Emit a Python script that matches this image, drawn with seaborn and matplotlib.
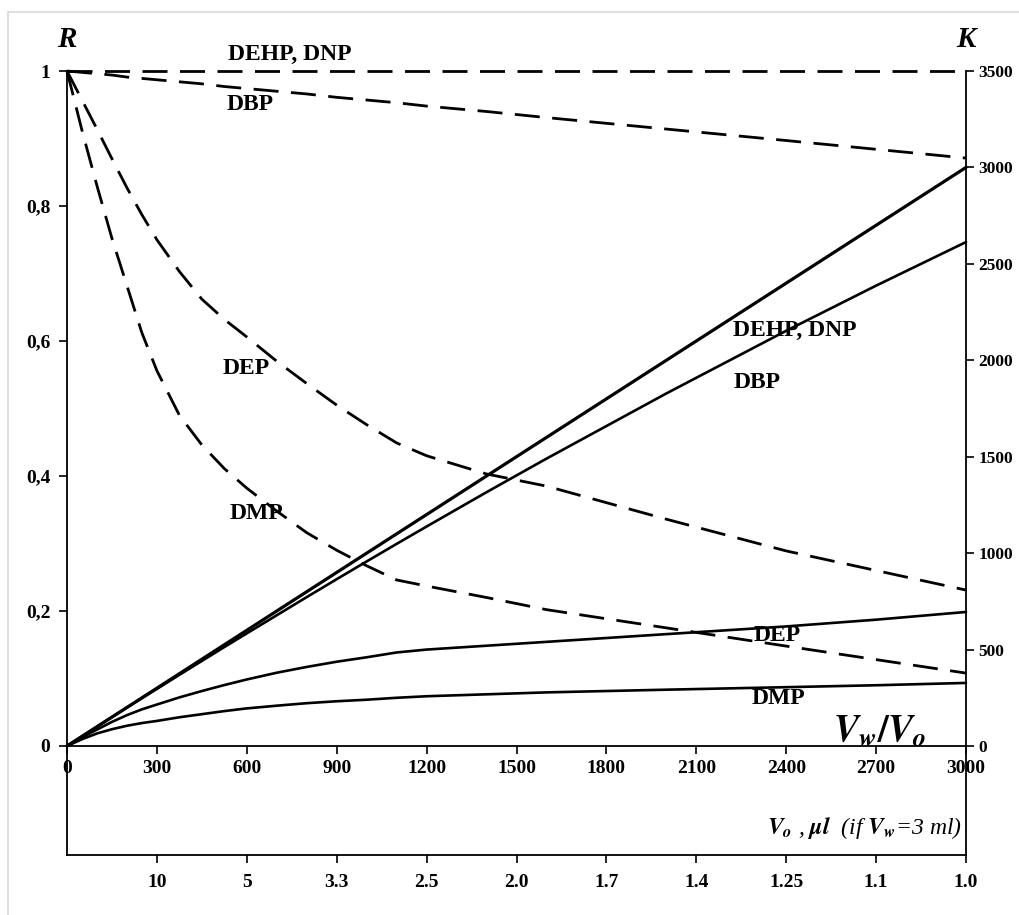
import numpy as np
import pandas as pd
import seaborn as sns
import matplotlib.pyplot as plt
from matplotlib.patches import Rectangle

# Vw/Vo grid
ratio = [0, 50, 100, 150, 200, 250, 300, 375, 450, 525, 600, 700, 800, 900, 1000, 1100, 1200, 1400, 1600, 2000, 2400, 2700, 3000]

# R (left axis, dashed)
r_dehp = [1.0] * len(ratio)
r_dbp = [1.0, 0.998, 0.996, 0.994, 0.991, 0.989, 0.987, 0.984, 0.981, 0.977, 0.974, 0.970, 0.966, 0.961, 0.957, 0.953, 0.948, 0.940, 0.931, 0.914, 0.897, 0.884, 0.871]
r_dep = [1.0, 0.957, 0.914, 0.870, 0.827, 0.787, 0.750, 0.703, 0.662, 0.632, 0.606, 0.570, 0.537, 0.505, 0.476, 0.449, 0.430, 0.403, 0.385, 0.336, 0.289, 0.260, 0.231]
r_dmp = [1.0, 0.912, 0.830, 0.752, 0.682, 0.612, 0.556, 0.490, 0.446, 0.411, 0.382, 0.348, 0.316, 0.290, 0.267, 0.246, 0.237, 0.220, 0.202, 0.175, 0.148, 0.128, 0.108]

# K (right axis, solid)
k_dehp = [0, 50, 100, 150, 200, 250, 300, 375, 450, 525, 600, 700, 800, 900, 1000, 1100, 1200, 1400, 1600, 2000, 2400, 2700, 3000]
k_dbp = [0, 50, 100, 150, 199, 248, 296, 369, 441, 513, 584, 678, 772, 865, 957, 1048, 1138, 1316, 1490, 1828, 2153, 2387, 2613]
k_dep = [0, 45, 85, 125, 160, 190, 215, 252, 285, 316, 345, 380, 410, 437, 460, 485, 500, 520, 540, 580, 620, 655, 695]
k_dmp = [0, 35, 65, 87, 105, 119, 130, 149, 165, 181, 195, 209, 222, 232, 240, 250, 258, 268, 278, 292, 305, 315, 327]

x_ticks = [0, 300, 600, 900, 1200, 1500, 1800, 2100, 2400, 2700, 3000]
vo_ticks = [300, 600, 900, 1200, 1500, 1800, 2100, 2400, 2700, 3000]
vo_labels = ["10", "5", "3.3", "2.5", "2.0", "1.7", "1.4", "1.25", "1.1", "1.0"]
r_ticks = [0, 0.2, 0.4, 0.6, 0.8, 1.0]
r_labels = ["0", "0,2", "0,4", "0,6", "0,8", "1"]
k_ticks = [0, 500, 1000, 1500, 2000, 2500, 3000, 3500]

sns.set_style("ticks")
plt.rcParams["font.family"] = ["Liberation Serif", "DejaVu Serif"]
plt.rcParams["mathtext.fontset"] = "stix"
plt.rcParams["font.weight"] = "bold"
plt.rcParams["text.color"] = "black"

fig = plt.figure(figsize=(10.19, 9.15), dpi=100)
W, H = 1019, 915
L, R_, T, B = 67, 966, 71, 746
ax = fig.add_axes([L / W, 1 - B / H, (R_ - L) / W, (B - T) / H])
ax.patch.set_alpha(0)
axk = ax.twinx()

dash = (0, (9, 4.5))
for r in [r_dehp, r_dbp, r_dep, r_dmp]:
    sns.lineplot(x=ratio, y=r, ax=ax, color="black", lw=2.0, linestyle=dash, clip_on=False)
for k, w in [(k_dehp, 2.3), (k_dbp, 1.9), (k_dep, 1.9), (k_dmp, 1.9)]:
    sns.lineplot(x=ratio, y=k, ax=axk, color="black", lw=w, clip_on=False)

ax.set_xlim(0, 3000)
ax.set_ylim(0, 1)
axk.set_ylim(0, 3500)
ax.set_xticks(x_ticks)
ax.set_yticks(r_ticks)
ax.set_yticklabels(r_labels)
axk.set_yticks(k_ticks)
for a in (ax, axk):
    a.spines["top"].set_visible(False)
    a.tick_params(length=6, width=1.2, labelsize=14, direction="out", pad=6,
                  colors="black", labelcolor="black")
    for s in a.spines.values():
        s.set_linewidth(1.3)
        s.set_color("black")
ax.spines["right"].set_visible(False)
axk.spines["left"].set_visible(False)
axk.spines["bottom"].set_visible(False)
axk.tick_params(axis="y", labelsize=12.5, pad=3)
ax.tick_params(axis="x", pad=4)
ax.set_xlabel("")
ax.set_ylabel("")
axk.set_ylabel("")

# secondary Vo scale box
B2 = 855
ax2 = fig.add_axes([L / W, 1 - B2 / H, (R_ - L) / W, (B2 - B) / H])
ax2.patch.set_alpha(0)
ax2.set_xlim(0, 3000)
ax2.set_ylim(0, 1)
ax2.set_yticks([])
ax2.set_xticks(vo_ticks)
ax2.set_xticklabels(vo_labels)
ax2.spines["top"].set_visible(False)
for s in ax2.spines.values():
    s.set_linewidth(1.3)
    s.set_color("black")
ax2.tick_params(axis="x", length=6, width=1.2, labelsize=14, pad=8, colors="black")
ax2.text(2985, 0.25, r"$V_o$ , $\mu l$  (if $V_w$=3 ml)", ha="right", va="center",
         fontsize=17, fontstyle="italic", fontweight="normal")

# curve labels
fs = 17
ax.text(744, 1.024, "DEHP, DNP", ha="center", va="center", fontsize=fs)
ax.text(611, 0.951, "DBP", ha="center", va="center", fontsize=fs)
ax.text(597, 0.559, "DEP", ha="center", va="center", fontsize=fs)
ax.text(631, 0.345, "DMP", ha="center", va="center", fontsize=fs)
ax.text(2429, 0.616, "DEHP, DNP", ha="center", va="center", fontsize=fs)
ax.text(2302, 0.539, "DBP", ha="center", va="center", fontsize=fs)
ax.text(2369, 0.164, "DEP", ha="center", va="center", fontsize=fs)
ax.text(2373, 0.071, "DMP", ha="center", va="center", fontsize=fs)

ax.text(0, 1.046, "R", ha="center", va="center", fontsize=21, fontstyle="italic", fontweight="bold")
ax.text(3000, 1.046, "K", ha="center", va="center", fontsize=21, fontstyle="italic", fontweight="bold")
ax.text(2713, 0.022, r"$V_w/V_o$", ha="center", va="center", fontsize=27)

# light frame around the figure
fig.patches.append(Rectangle((8 / W, -0.05), 1.2, 1.05 - 12 / H, transform=fig.transFigure,
                             fill=False, edgecolor="#d9d9d9", lw=1.2))

fig.savefig("out.png", dpi=100)
